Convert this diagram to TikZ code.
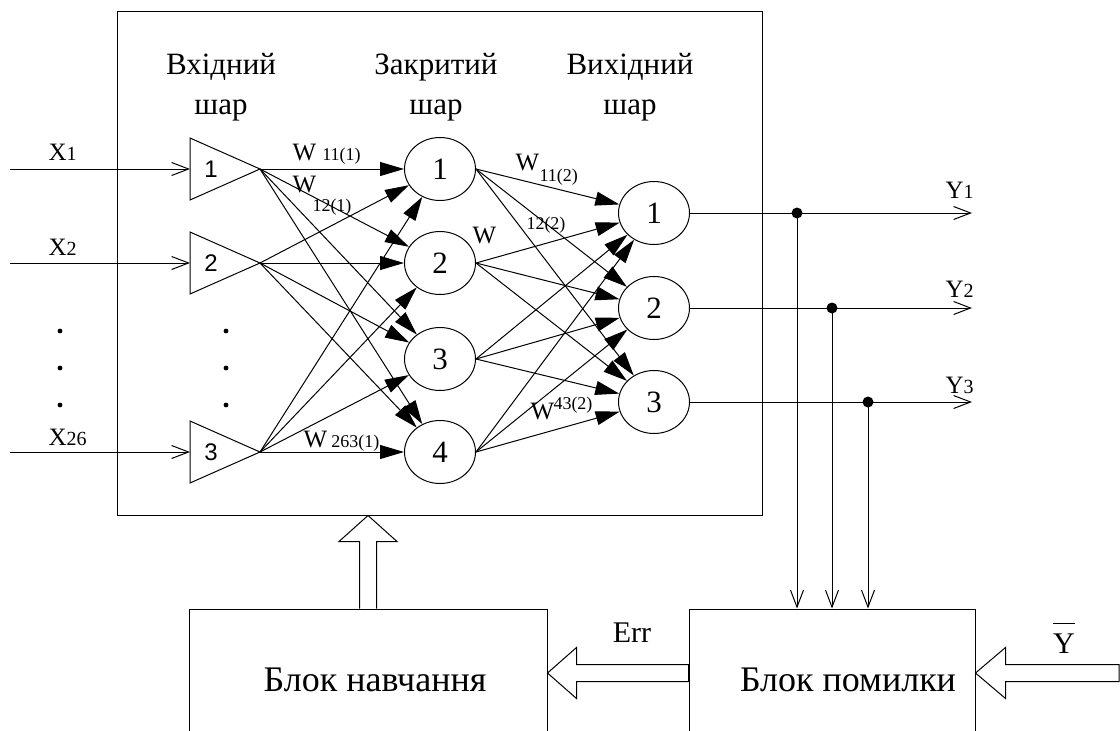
\documentclass[tikz,border=0pt]{standalone}
\usepackage{fontspec}
\setmainfont{Liberation Serif}
\newfontfamily\digitsans{Liberation Sans}
\usetikzlibrary{arrows.meta,shapes.geometric,calc}
% small index digits set beside a letter
\newcommand\wsub[1]{{\fontsize{18}{18}\selectfont #1}}
\newcommand\xsub[1]{{\fontsize{20}{20}\selectfont #1}}
\begin{document}
\begin{tikzpicture}[x=1pt,y=-1pt,line width=1pt,
  neuron/.style={draw,ellipse,minimum width=71pt,minimum height=63pt,inner sep=0pt,
    font=\fontsize{31}{31}\selectfont},
  trilab/.style={inner sep=0pt,font=\digitsans\fontsize{24}{24}\selectfont},
  fwd/.style={-{Triangle[length=24pt,width=14pt]}},
  barb/.style={-{Straight Barb[length=17pt,width=13pt]}},
  block/.style={draw,rectangle,inner sep=0pt},
  hollow/.style={draw,fill=white,line join=miter},
  layer/.style={align=center,inner sep=0pt,font=\fontsize{31}{40}\selectfont},
  wlab/.style={inner sep=0pt,anchor=base west,font=\fontsize{25}{25}\selectfont},
  iolab/.style={inner sep=0pt,anchor=base west,font=\fontsize{25}{25}\selectfont},
  blocktxt/.style={inner sep=0pt,font=\fontsize{36}{36}\selectfont},
  sidelab/.style={inner sep=0pt,font=\fontsize{30}{30}\selectfont}]

\useasboundingbox (0,0) rectangle (1120,731);
\clip (0,0) rectangle (1120,731);

% network frame and the two lower blocks
\node[block,minimum width=645pt,minimum height=504pt] (net) at (439.5,263) {};
\node[block,minimum width=358pt,minimum height=128pt] (learn) at (368,673) {};
\node[block,minimum width=286pt,minimum height=128pt] (errb) at (832,673) {};
\node[blocktxt] (learntxt) at (375,680) {Блок навчання};
\node[blocktxt] (errtxt) at (848,680) {Блок помилки};

% layer captions
\node[layer] (lin)  at (221,87) {Вхідний\\шар};
\node[layer] (lhid) at (436,87) {Закритий\\шар};
\node[layer] (lout) at (630,87) {Вихідний\\шар};

% input layer
\foreach \i/\y in {1/169,2/263,3/452} {
  \coordinate (apex\i) at (260,\y);
  \coordinate (base\i) at (190,\y);
  \draw[line join=miter] (190,\y-31) -- (apex\i) -- (190,\y+31) -- cycle;
  \node[trilab] (tri\i) at (211,\y) {\i};
  \coordinate (xs\i) at (10,\y);
  \draw[barb] (xs\i) -- (base\i);
}
\node[iolab] (x1) at (48,160) {X\xsub{1}};
\node[iolab] (x2) at (48,255) {X\xsub{2}};
\node[iolab] (x26) at (48,445) {X\xsub{26}};
\foreach \x in {60,226} \foreach \y in {331,368,405} \fill (\x,\y) circle (2.4);

% hidden and output layers
\foreach \i/\y in {1/169,2/263,3/359,4/452} \node[neuron] (h\i) at (440,\y) {\i};
\foreach \i/\y in {1/213,2/308,3/402} \node[neuron] (o\i) at (654,\y) {\i};

% weighted links
\foreach \a in {1,2,3} \foreach \b in {1,...,4} \draw[fwd] (apex\a) -- (h\b);
\foreach \a in {1,...,4} \foreach \b in {1,2,3} \draw[fwd] (h\a.east) -- (o\b);

% weight labels
\node[wlab] (w111) at (292,160) {W \wsub{11(1)}};
\node[wlab] (w121) at (292,192) {W};
\node[wlab] (w121s) at (312,211) {\wsub{12(1)}};
\node[wlab] (w112) at (515,170) {W};
\node[wlab] (w112s) at (539,181) {\wsub{11(2)}};
\node[wlab] (w122) at (472,243) {W};
\node[wlab] (w122s) at (526,229) {\wsub{12(2)}};
\node[wlab] (w2631) at (303,447) {W\,\wsub{263(1)}};
\node[wlab] (w432) at (530,419) {W};
\node[wlab] (w432s) at (553,409) {\wsub{43(2)}};

% outputs, taps to the error block
\foreach \i/\y/\d in {1/213/797,2/308/832,3/402/868} {
  \coordinate (yend\i) at (972,\y);
  \draw[barb] (o\i.east) -- (yend\i);
  \coordinate (tap\i) at (\d,\y);
  \fill (tap\i) circle (5.5);
  \draw[barb] (tap\i) -- (tap\i |- errb.north);
}
\node[iolab] (y1) at (945,198) {Y\xsub{1}};
\node[iolab] (y2) at (945,297) {Y\xsub{2}};
\node[iolab] (y3) at (945,393) {Y\xsub{3}};

% wide arrows
\coordinate (uptip) at (learn.north |- net.south);
\coordinate (uphead) at ([yshift=-26pt]uptip);
\draw[hollow] ([xshift=-8.5pt]learn.north) -- ([xshift=-8.5pt]uphead) -- ([xshift=-29pt]uphead)
  -- (uptip) -- ([xshift=29pt]uphead) -- ([xshift=8.5pt]uphead) -- ([xshift=8.5pt]learn.north);

\coordinate (errhead) at ([xshift=29pt]learn.east);
\draw[hollow] (learn.east) -- ([yshift=25.5pt]errhead) -- ([yshift=8.5pt]errhead)
  -- ([yshift=8.5pt]errb.west) -- ([yshift=-8.5pt]errb.west) -- ([yshift=-8.5pt]errhead)
  -- ([yshift=-25.5pt]errhead) -- cycle;
\node[sidelab] (errlab) at (632,633) {Err};

\coordinate (ytail) at (1119,673);
\coordinate (yhead) at ([xshift=30pt]errb.east);
\draw[hollow] (errb.east) -- ([yshift=25.5pt]yhead) -- ([yshift=8.5pt]yhead)
  -- ([yshift=8.5pt]ytail) -- ([yshift=-8.5pt]ytail) -- ([yshift=-8.5pt]yhead)
  -- ([yshift=-25.5pt]yhead) -- cycle;
\node[sidelab] (ybar) at (1064,644) {Y};
\draw ([yshift=10pt]ybar.north west) -- ([yshift=10pt]ybar.north east);
\end{tikzpicture}
\end{document}
